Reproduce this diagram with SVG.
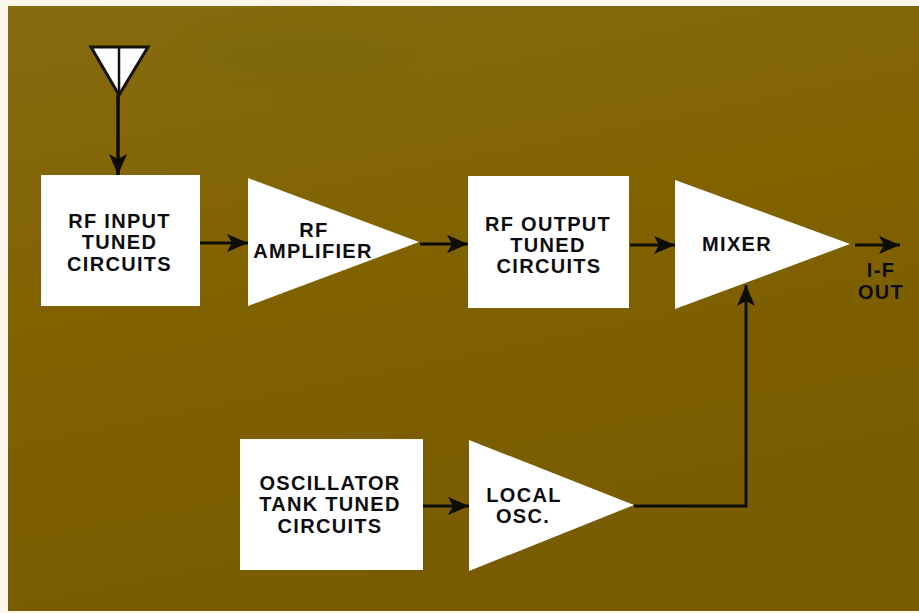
<svg xmlns="http://www.w3.org/2000/svg" width="919" height="613" viewBox="0 0 919 613">
<style>
.n{fill:#fff}
.t{font-family:"Liberation Sans",Arial,sans-serif;font-weight:700;font-size:20px;fill:#0c0c10;text-anchor:middle;letter-spacing:1.3px}
.c{fill:none;stroke:#0e0c06;stroke-width:3}
</style>
<defs>
<marker id="a" markerUnits="userSpaceOnUse" markerWidth="24" markerHeight="20" refX="21" refY="9" orient="auto"><path d="M0 0L21 9L0 18L5 9Z" fill="#0e0c06"/></marker>
<linearGradient id="bg" x1="0" y1="0" x2="0.3" y2="1"><stop offset="0" stop-color="#876b10"/><stop offset="0.5" stop-color="#806200"/><stop offset="1" stop-color="#795b02"/></linearGradient>
<filter id="b" x="-30%" y="-60%" width="160%" height="220%"><feGaussianBlur stdDeviation="14"/></filter>
</defs>
<rect width="919" height="613" fill="#fbf6ea"/>
<rect x="8" y="6" width="911" height="605" fill="url(#bg)"/>
<ellipse cx="300" cy="55" rx="110" ry="26" fill="#6f6a10" opacity="0.3" filter="url(#b)"/>
<g id="antenna"><path d="M91 47H148L119 95Z" fill="#fff" stroke="#14120a" stroke-width="3"/><path d="M119 47V95" stroke="#14120a" stroke-width="2.5"/></g>
<g id="rf-input"><rect class="n" x="41" y="175" width="159" height="131"/><text class="t" x="119.500" y="228">RF INPUT</text><text class="t" x="119.500" y="249">TUNED</text><text class="t" x="119.500" y="271">CIRCUITS</text></g>
<g id="rf-amp"><path class="n" d="M248 178L419 242L248 306Z"/><text class="t" x="314" y="237">RF</text><text class="t" x="313" y="258">AMPLIFIER</text></g>
<g id="rf-output"><rect class="n" x="468" y="176" width="161" height="132"/><text class="t" x="548" y="231">RF OUTPUT</text><text class="t" x="548" y="252">TUNED</text><text class="t" x="549" y="273">CIRCUITS</text></g>
<g id="mixer"><path class="n" d="M675 180L850 244L675 309Z"/><text class="t" x="737" y="251">MIXER</text></g>
<g id="osc-tank"><rect class="n" x="240" y="439" width="183" height="131"/><text class="t" x="330" y="490">OSCILLATOR</text><text class="t" x="330" y="511">TANK TUNED</text><text class="t" x="330" y="533">CIRCUITS</text></g>
<g id="local-osc"><path class="n" d="M469 440L634 505L469 571Z"/><text class="t" x="524" y="502">LOCAL</text><text class="t" x="523" y="523">OSC.</text></g>
<g id="if-out"><text class="t" x="881" y="277">I-F</text><text class="t" x="881" y="299">OUT</text></g>
<g id="connectors">
<path class="c" d="M118 95V175" marker-end="url(#a)" style="stroke-width:3.500"/>
<path class="c" d="M200 243H248" marker-end="url(#a)"/>
<path class="c" d="M420 244H468" marker-end="url(#a)"/>
<path class="c" d="M630 245H675" marker-end="url(#a)"/>
<path class="c" d="M855 245H900" marker-end="url(#a)"/>
<path class="c" d="M423 506H469" marker-end="url(#a)"/>
<path class="c" d="M634 506H746V285" marker-end="url(#a)"/>
</g>
</svg>
